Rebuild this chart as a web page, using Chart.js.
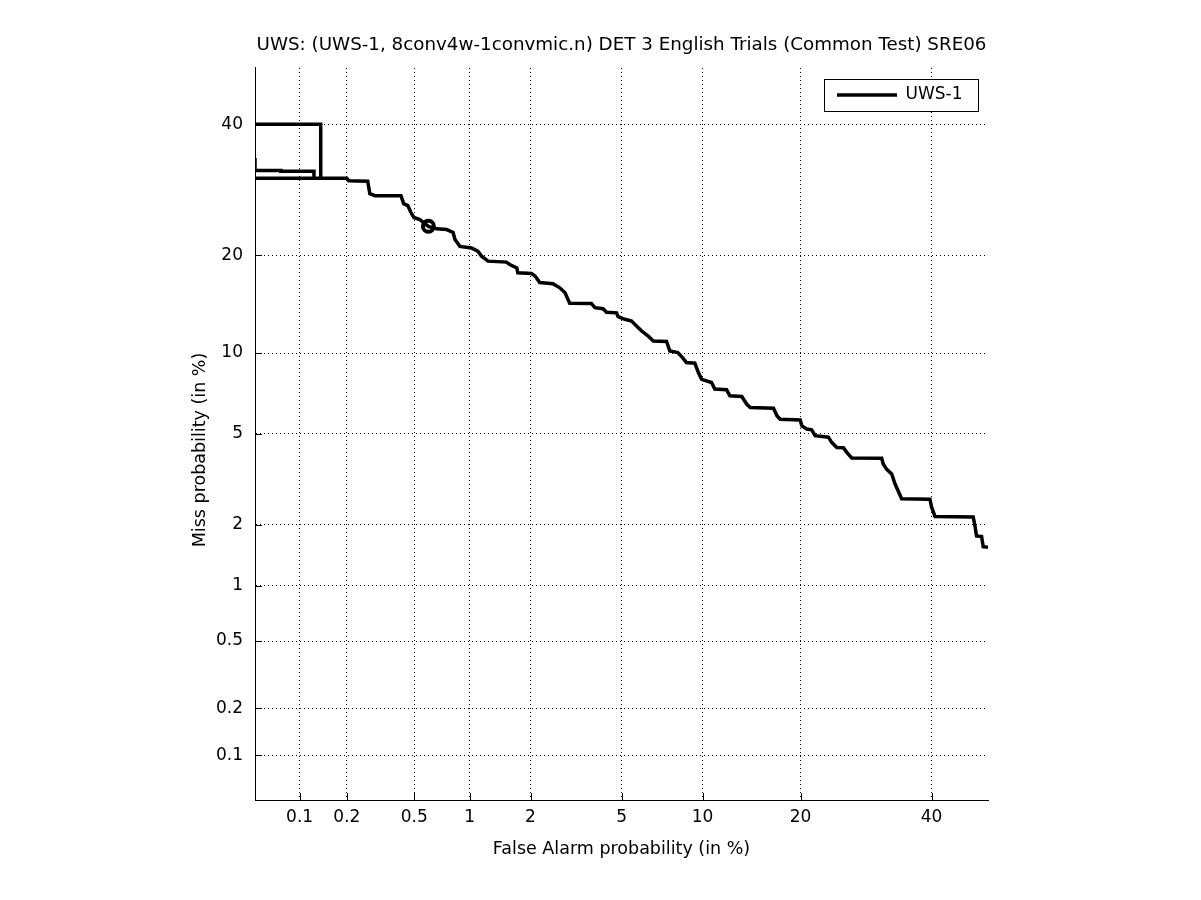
<!DOCTYPE html>
<html>
<head>
<meta charset="utf-8">
<script src="https://cdn.jsdelivr.net/npm/chart.js@4/dist/chart.umd.min.js"></script>
<style>
  html, body { margin: 0; padding: 0; background: #fff; }
  canvas { display: block; }
</style>
</head>
<body>
<canvas id="det" width="1201" height="900"></canvas>
<script>
// ---------------- data (percent) ----------------
const chartTitle = 'UWS: (UWS-1, 8conv4w-1convmic.n) DET 3 English Trials (Common Test) SRE06';
const seriesName = 'UWS-1';
const xAxisTitle = 'False Alarm probability (in %)';
const yAxisTitle = 'Miss probability (in %)';

const xTickValues = [0.1, 0.2, 0.5, 1, 2, 5, 10, 20, 40];
const yTickValues = [0.1, 0.2, 0.5, 1, 2, 5, 10, 20, 40];
const axisMinPct = 0.05;
const axisMaxPct = 50;

// DET curve vertices (null miss value = break in the line)
const falseAlarmPct = [
  0.05, 0.137, 0.137, 0.05,
  0.05,
  0.05, 0.05, 0.075, 0.075, 0.124, 0.124, 0.2, 0.206, 0.268, 0.276, 0.296, 0.42, 0.436, 0.46, 0.479,
  0.498, 0.538, 0.6, 0.666, 0.755, 0.817, 0.836, 0.888, 1.02, 1.10, 1.15, 1.24, 1.53, 1.59, 1.72,
  1.74, 2.02, 2.10, 2.21, 2.54, 2.73, 2.88, 3.02, 3.75, 3.88, 4.20, 4.34, 4.77, 4.84, 5.15, 5.48,
  5.73, 6.00, 6.36, 6.65, 7.45, 7.66, 8.19, 8.53, 8.79, 9.41, 9.67, 9.93, 10.73, 11.0, 12.03, 12.33,
  13.45, 13.95, 14.29, 16.78, 17.17, 17.54, 19.96, 20.17, 20.79, 21.43, 21.88, 23.68, 24.14, 24.86,
  25.82, 26.31, 27.03, 31.66, 31.91, 32.47, 33.28, 33.81, 34.34, 34.91, 39.72, 40.0, 40.59, 47.35,
  47.65, 47.95, 48.85, 49.14, 50.0
];
const missPct = [
  40, 40, 31.0, 31.0,
  null,
  34.3, 32.26, 32.26, 32.13, 32.13, 31.0, 31.0, 30.6, 30.53, 28.61, 28.3, 28.3, 27.09, 26.8, 25.79,
  25.07, 24.77, 23.83, 23.48, 23.38, 22.98, 22.03, 21.13, 20.93, 20.51, 19.88, 19.26, 19.14, 18.85, 18.44,
  17.86, 17.79, 17.48, 16.73, 16.61, 16.15, 15.61, 14.51, 14.49, 14.06, 13.96, 13.61, 13.55, 13.18, 12.93, 12.77,
  12.31, 11.85, 11.40, 10.99, 10.94, 10.17, 10.04, 9.63, 9.27, 9.22, 8.56, 8.08, 7.87, 7.45, 7.40, 7.03,
  6.99, 6.53, 6.35, 6.31, 5.90, 5.72, 5.68, 5.38, 5.23, 5.19, 4.92, 4.85, 4.62, 4.40,
  4.39, 4.20, 3.98, 3.97, 3.75, 3.56, 3.40, 3.08, 2.86, 2.64, 2.63, 2.42, 2.19, 2.18,
  1.99, 1.77, 1.76, 1.57, 1.56
];

// operating-point marker (circle)
const markerFalseAlarmPct = [0.6];
const markerMissPct = [23.83];

// ---------------- probit (normal deviate) scale ----------------
function probit(p) {
  const a = [-3.969683028665376e+01, 2.209460984245205e+02, -2.759285104469687e+02, 1.383577518672690e+02, -3.066479806614716e+01, 2.506628277459239e+00];
  const b = [-5.447609879822406e+01, 1.615858368580409e+02, -1.556989798598866e+02, 6.680131188771972e+01, -1.328068155288572e+01];
  const c = [-7.784894002430293e-03, -3.223964580411365e-01, -2.400758277161838e+00, -2.549732539343734e+00, 4.374664141464968e+00, 2.938163982698783e+00];
  const d = [7.784695709041462e-03, 3.224671290700398e-01, 2.445134137142996e+00, 3.754408661907416e+00];
  const pl = 0.02425, ph = 1 - pl;
  let q, r;
  if (p < pl) {
    q = Math.sqrt(-2 * Math.log(p));
    return (((((c[0]*q+c[1])*q+c[2])*q+c[3])*q+c[4])*q+c[5]) / ((((d[0]*q+d[1])*q+d[2])*q+d[3])*q+1);
  }
  if (p <= ph) {
    q = p - 0.5; r = q * q;
    return (((((a[0]*r+a[1])*r+a[2])*r+a[3])*r+a[4])*r+a[5])*q / (((((b[0]*r+b[1])*r+b[2])*r+b[3])*r+b[4])*r+1);
  }
  q = Math.sqrt(-2 * Math.log(1 - p));
  return -(((((c[0]*q+c[1])*q+c[2])*q+c[3])*q+c[4])*q+c[5]) / ((((d[0]*q+d[1])*q+d[2])*q+d[3])*q+1);
}
function normCdf(z) {
  const t = 1 / (1 + 0.2316419 * Math.abs(z));
  const y = 0.3989422804014327 * Math.exp(-z * z / 2) *
    t * (0.319381530 + t * (-0.356563782 + t * (1.781477937 + t * (-1.821255978 + t * 1.330274429))));
  return z > 0 ? 1 - y : y;
}

const Y_TITLE_SHIFT = 16;

class ProbitScale extends Chart.Scale {
  constructor(cfg) { super(cfg); this._startValue = 0; this._valueRange = 1; }
  parse(raw) { return raw === null || raw === undefined ? null : +raw; }
  determineDataLimits() { this.min = this.options.min; this.max = this.options.max; }
  buildTicks() { return []; }
  getLabelForValue(v) { return String(v); }
  configure() {
    super.configure();
    this._startValue = probit(this.min / 100);
    this._valueRange = probit(this.max / 100) - this._startValue;
  }
  getPixelForValue(v) {
    if (v === null || v === undefined || isNaN(v)) return NaN;
    return this.getPixelForDecimal((probit(v / 100) - this._startValue) / this._valueRange);
  }
  getValueForPixel(px) {
    return 100 * normCdf(this._startValue + this.getDecimalForPixel(px) * this._valueRange);
  }
  drawTitle() {
    if (this.isHorizontal()) { super.drawTitle(); return; }
    const t = this.top, b = this.bottom;
    this.top = t + Y_TITLE_SHIFT; this.bottom = b + Y_TITLE_SHIFT;
    super.drawTitle();
    this.top = t; this.bottom = b;
  }
}
ProbitScale.id = 'probit';
ProbitScale.defaults = {};
Chart.register(ProbitScale);

const FONT = '"DejaVu Sans", "Liberation Sans", Arial, sans-serif';
const LEGEND_FONT_SIZE = 17;
const LEGEND_LINE_W = 60;
const LEGEND_PAD = 10;

// ---------------- decorations: legend placement, inward ticks, legend frame ----------------
const detDecor = {
  id: 'detDecor',
  afterLayout(chart) {
    const lg = chart.legend;
    if (lg) {
      lg.left = 837 - LEGEND_PAD;
      lg.top = 86.5 - LEGEND_PAD;
      lg.right = lg.left + lg.width;
      lg.bottom = lg.top + lg.height;
    }
  },
  afterDraw(chart) {
    const ctx = chart.ctx, xs = chart.scales.x, ys = chart.scales.y, a = chart.chartArea;
    ctx.save();
    ctx.strokeStyle = '#000';
    ctx.lineWidth = 1;
    ctx.beginPath();
    xs.ticks.forEach(t => {
      const px = Math.round(xs.getPixelForValue(t.value)) + 0.5;
      ctx.moveTo(px, a.bottom); ctx.lineTo(px, a.bottom - 7);
    });
    ys.ticks.forEach(t => {
      const py = Math.round(ys.getPixelForValue(t.value)) + 0.5;
      ctx.moveTo(a.left, py); ctx.lineTo(a.left + 7, py);
    });
    ctx.stroke();
    const lg = chart.legend;
    if (lg) {
      ctx.font = LEGEND_FONT_SIZE + 'px ' + FONT;
      const textW = ctx.measureText(seriesName).width;
      const itemLeft = lg.left + LEGEND_PAD, itemTop = lg.top + LEGEND_PAD;
      const l = Math.round(itemLeft - 13) + 0.5;
      const r = Math.round(itemLeft + LEGEND_LINE_W + LEGEND_FONT_SIZE / 2 + textW + 16) + 0.5;
      const t = Math.round(itemTop - 7.5) + 0.5;
      const b = Math.round(itemTop + LEGEND_FONT_SIZE + 7.5) + 0.5;
      ctx.fillStyle = '#fff';
      ctx.fillRect(l, t, r - l, b - t);
      ctx.strokeRect(l, t, r - l, b - t);
      ctx.restore();
      lg.draw();
      return;
    }
    ctx.restore();
  }
};

Chart.defaults.font.family = FONT;
Chart.defaults.color = '#000';

const curvePoints = falseAlarmPct.map((fa, i) => ({ x: fa, y: missPct[i] }));
const markerPoints = markerFalseAlarmPct.map((fa, i) => ({ x: fa, y: markerMissPct[i] }));

new Chart(document.getElementById('det'), {
  type: 'line',
  data: {
    datasets: [
      {
        label: seriesName,
        data: curvePoints,
        borderColor: '#000',
        backgroundColor: '#000',
        borderWidth: 3.5,
        pointRadius: 0,
        tension: 0,
        spanGaps: false,
        fill: false
      },
      {
        label: 'marker',
        data: markerPoints,
        showLine: false,
        pointRadius: 5.5,
        pointBorderWidth: 4,
        pointBorderColor: '#000',
        pointBackgroundColor: 'rgba(0,0,0,0)'
      }
    ]
  },
  options: {
    responsive: false,
    animation: false,
    devicePixelRatio: 1,
    events: [],
    layout: { padding: { left: 0, right: 213, top: 0, bottom: 0 } },
    plugins: {
      tooltip: { enabled: false },
      title: {
        display: true,
        text: chartTitle,
        fullSize: false,
        font: { size: 18.3, weight: 'normal' },
        color: '#000',
        padding: { top: 34, bottom: 12 }
      },
      legend: {
        position: 'chartArea',
        align: 'start',
        labels: {
          filter: item => item.datasetIndex === 0,
          usePointStyle: true,
          pointStyle: 'line',
          pointStyleWidth: LEGEND_LINE_W,
          padding: LEGEND_PAD,
          font: { size: LEGEND_FONT_SIZE },
          color: '#000'
        }
      }
    },
    scales: {
      x: {
        type: 'probit',
        position: 'bottom',
        min: axisMinPct,
        max: axisMaxPct,
        afterBuildTicks: s => { s.ticks = xTickValues.map(v => ({ value: v })); },
        afterFit: s => { s.height = 100; },
        ticks: { autoSkip: false, maxRotation: 0, padding: 7.5, font: { size: 17 }, color: '#000', callback: v => String(v) },
        grid: { display: true, drawTicks: false, color: '#000', lineWidth: 1 },
        border: { display: true, color: '#000', width: 1, dash: [1, 3] },
        title: { display: true, text: xAxisTitle, font: { size: 17.5 }, color: '#000', padding: { top: 0, bottom: 40.5 } }
      },
      y: {
        type: 'probit',
        position: 'left',
        min: axisMinPct,
        max: axisMaxPct,
        afterBuildTicks: s => { s.ticks = yTickValues.map(v => ({ value: v })); },
        afterFit: s => { s.width = 255; },
        ticks: { autoSkip: false, padding: 12, font: { size: 17 }, color: '#000', callback: v => String(v) },
        grid: { display: true, drawTicks: false, color: '#000', lineWidth: 1 },
        border: { display: true, color: '#000', width: 1, dash: [1, 3] },
        title: { display: true, text: yAxisTitle, font: { size: 17.5 }, color: '#000', padding: { top: 189.5, bottom: 0 } }
      }
    }
  },
  plugins: [detDecor]
});
</script>
</body>
</html>
